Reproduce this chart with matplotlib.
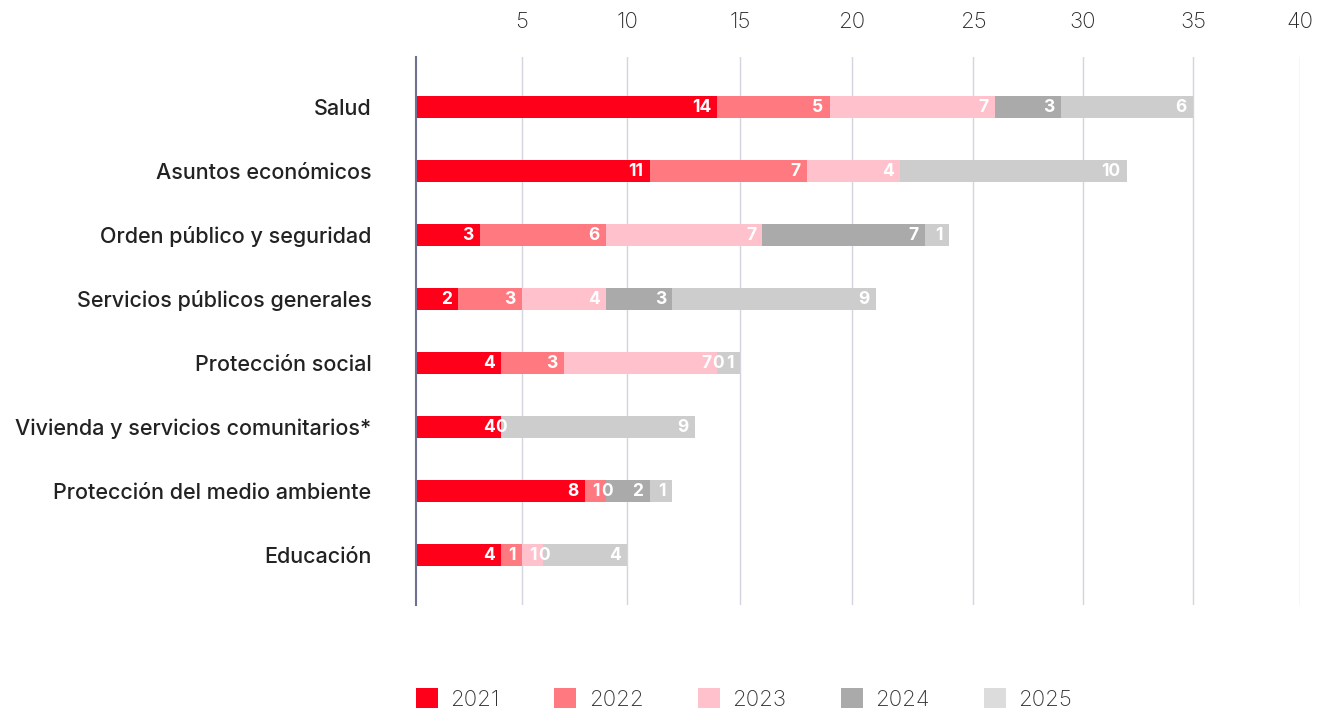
import numpy as np
import matplotlib.pyplot as plt
from matplotlib.patches import Patch

# ===================== ДАННЫЕ =====================
categories = ['Salud', 'Asuntos económicos', 'Orden público y seguridad',
              'Servicios públicos generales', 'Protección social',
              'Vivienda y servicios comunitarios*',
              'Protección del medio ambiente', 'Educación']
years = ['2021', '2022', '2023', '2024', '2025']

v2021 = [14, 11, 3, 2, 4, 4, 8, 4]
v2022 = [5, 7, 6, 3, 3, 0, 1, 1]
v2023 = [7, 4, 7, 4, 7, np.nan, 0, 1]
v2024 = [3, np.nan, 7, 3, 0, np.nan, 2, 0]
v2025 = [6, 10, 1, 9, 1, 9, 1, 4]

tick_vals = [0, 5, 10, 15, 20, 25, 30, 35, 40]

colors = ['#ff001b', '#ff7a80', '#ffc2cd', '#aaaaab', '#cdcdcd']
legend_colors = ['#ff001b', '#ff7a80', '#ffc2cd', '#aaaaab', '#dcdcdc']

# сетка в исходнике расставлена неравномерно - повторяем кусочно-линейной шкалой
grid_px = [416, 522, 627, 740, 852, 973, 1083, 1193, 1300]


def fwd(x):
    return np.interp(x, tick_vals, grid_px)


def inv(x):
    return np.interp(x, grid_px, tick_vals)


plt.rcParams['font.family'] = ['Inter', 'DejaVu Sans']

fig = plt.figure(figsize=(13.3, 7.16), dpi=100)
ax = fig.add_axes([416 / 1330, 1 - 605 / 716, (1300 - 416) / 1330, 548 / 716])
ax.set_xscale('function', functions=(fwd, inv))

series = [v2021, v2022, v2023, v2024, v2025]
y = np.arange(len(categories))
left = np.zeros(len(categories))

for vals, col in zip(series, colors):
    vals = np.array(vals, dtype=float)
    w = np.nan_to_num(vals)
    ax.barh(y, w, left=left, height=0.34, color=col, zorder=3)
    for i, v in enumerate(vals):
        if np.isnan(v):
            continue
        end = left[i] + w[i]
        if v == 0:
            ax.annotate('0', (end, y[i]), xytext=(0.5, -0.5), textcoords='offset points',
                        ha='center', va='center', color='white',
                        fontsize=12.5, fontweight='bold', zorder=4)
        else:
            ax.annotate(f'{int(v)}', (end, y[i]), xytext=(-4.5, -0.5), textcoords='offset points',
                        ha='right', va='center', color='white',
                        fontsize=12.5, fontweight='bold', zorder=4)
    left = left + w

ax.set_xlim(0, 40)
ax.set_ylim(7.78, -0.78)

ax.xaxis.tick_top()
ax.set_xticks(tick_vals[1:])
ax.set_xticklabels([str(t) for t in tick_vals[1:]])
ax.tick_params(axis='x', length=0, pad=18, labelsize=16, labelcolor='#2a2a2a')
for lbl in ax.get_xticklabels():
    lbl.set_fontweight('light')
ax.grid(axis='x', color='#d4d4de', linewidth=1, zorder=0)

ax.set_yticks(y)
ax.set_yticklabels(categories)
ax.tick_params(axis='y', length=0, pad=32, labelsize=15.5, labelcolor='#222222')
for lbl in ax.get_yticklabels():
    lbl.set_fontweight('medium')

for s in ['top', 'right', 'bottom']:
    ax.spines[s].set_visible(False)
ax.spines['left'].set_color('#6e7191')
ax.spines['left'].set_linewidth(1.5)
ax.spines['left'].set_zorder(5)

handles = [Patch(facecolor=c, edgecolor='none') for c in legend_colors]
leg = ax.legend(handles, years, loc='center left', bbox_to_anchor=(0, -0.172),
                ncol=5, frameon=False, fontsize=16, handlelength=1.0, handleheight=1.0,
                handletextpad=0.55, columnspacing=2.45, borderpad=0, borderaxespad=0)
for t in leg.get_texts():
    t.set_color('#333333')
    t.set_fontweight('light')

fig.savefig('out.png', dpi=100)
